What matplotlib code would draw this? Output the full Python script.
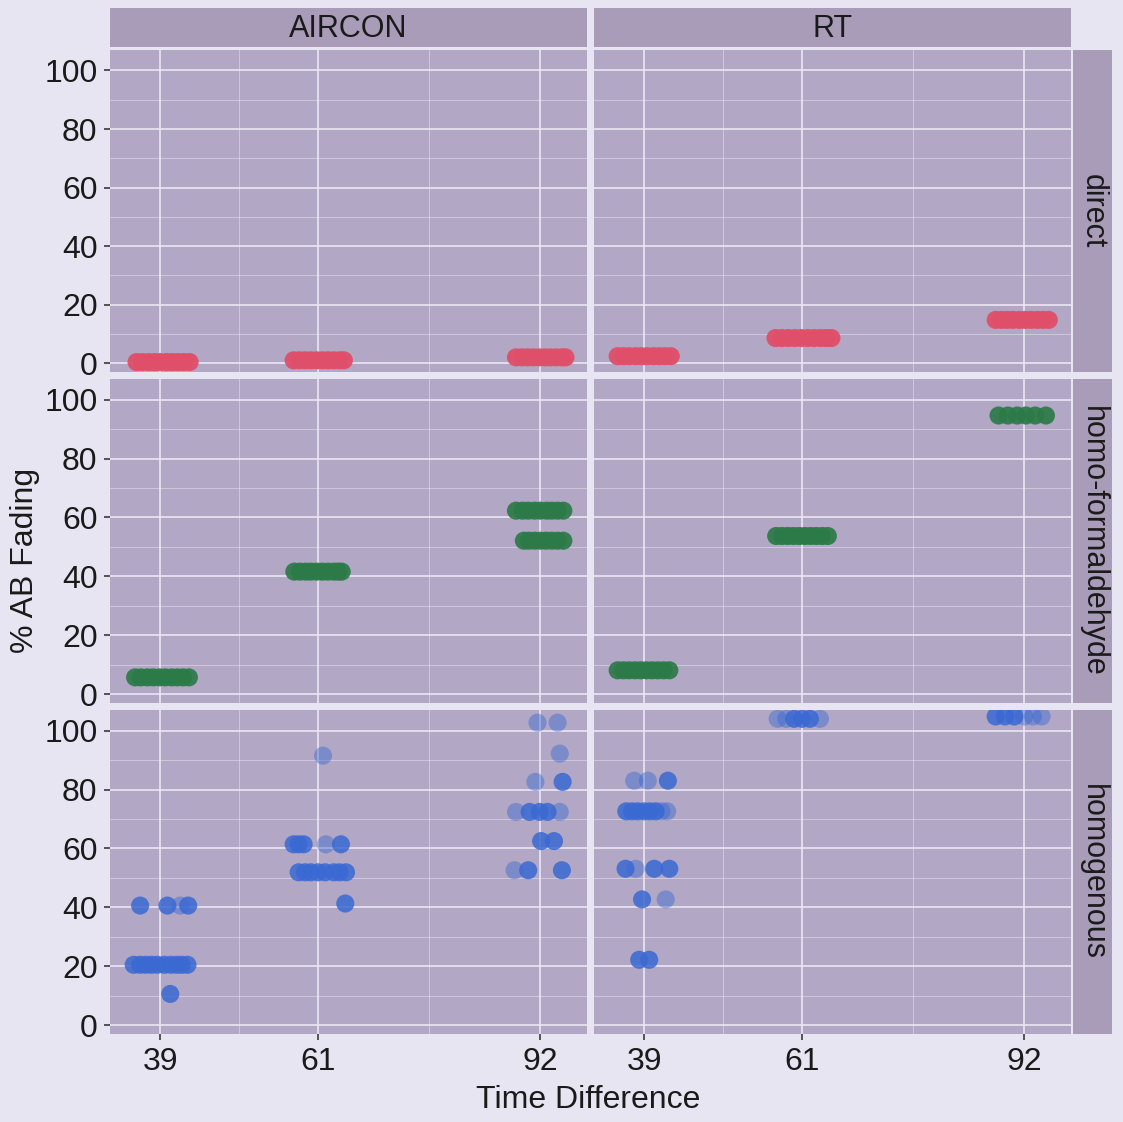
import numpy as np
import matplotlib.pyplot as plt

plt.rcParams['font.family'] = ['Liberation Sans', 'DejaVu Sans']

# facets
cols = ["AIRCON", "RT"]
rows = ["direct", "homo-formaldehyde", "homogenous"]
x_breaks = [39, 61, 92]
y_breaks = [0, 20, 40, 60, 80, 100]

# direct
direct_aircon_x = [35.7, 36.5, 37.4, 38.2, 39.0, 39.9, 40.7, 41.5, 42.3, 43.1,
                   57.6, 58.4, 59.2, 60.0, 60.8, 61.6, 62.4, 63.2, 64.0, 64.6,
                   88.6, 89.4, 90.2, 91.0, 91.8, 92.6, 93.4, 94.2, 95.0, 95.5]
direct_aircon_y = [0.4] * 10 + [1.0] * 10 + [2.0] * 10
direct_rt_x = [35.3, 36.1, 36.9, 37.8, 38.6, 39.4, 40.3, 41.1, 41.9, 42.7,
               57.3, 58.2, 59.1, 60.0, 60.9, 61.8, 62.7, 63.6, 64.4, 65.1,
               88.0, 88.8, 89.6, 90.4, 91.3, 92.1, 92.9, 93.8, 94.6, 95.4]
direct_rt_y = [2.4] * 10 + [8.6] * 10 + [14.8] * 10

# homo-formaldehyde
formal_aircon_x = [35.5, 36.3, 37.2, 38.0, 38.9, 39.7, 40.6, 41.4, 42.2, 43.0,
                   57.7, 58.5, 59.3, 60.0, 60.8, 61.6, 62.4, 63.2, 63.8, 64.3,
                   88.6, 89.5, 90.3, 91.2, 92.0, 92.9, 93.6, 94.4, 95.2,
                   89.7, 90.4, 91.2, 92.0, 92.8, 93.6, 94.4, 95.2]
formal_aircon_y = [5.7] * 10 + [41.6] * 10 + [62.3] * 9 + [52.1] * 8
formal_rt_x = [35.3, 36.1, 36.9, 37.7, 38.5, 39.3, 40.1, 40.9, 41.7, 42.5,
               57.4, 58.2, 59.0, 59.8, 60.6, 61.4, 62.2, 63.0, 63.8, 64.6,
               88.4, 89.7, 91.0, 92.2, 93.5, 95.0]
formal_rt_y = [8.1] * 10 + [53.7] * 10 + [94.6] * 6

# homogenous (solid and pale points)
homog_aircon_x = [36.2, 40.0, 42.9,
                  35.3, 36.2, 37.0, 37.8, 38.6, 39.6, 40.5, 41.3, 42.0, 42.8,
                  40.4,
                  57.6, 58.3, 59.0, 64.2,
                  58.3, 59.2, 60.0, 61.0, 62.0, 63.2, 64.0, 64.9,
                  64.8,
                  95.1, 90.5, 91.9, 93.0, 92.1, 93.9, 90.3, 95.0]
homog_aircon_y = [40.6, 40.6, 40.6,
                  20.5, 20.5, 20.5, 20.5, 20.5, 20.5, 20.5, 20.5, 20.5, 20.5,
                  10.6,
                  61.4, 61.4, 61.4, 61.4,
                  51.9, 51.9, 51.9, 51.9, 51.9, 51.9, 51.9, 51.9,
                  41.3,
                  82.6, 72.4, 72.4, 72.4, 62.5, 62.5, 52.6, 52.6]
homog_aircon_pale_x = [41.8, 62.1, 61.7, 91.6, 94.4, 94.7, 91.3, 88.6, 94.7, 88.4]
homog_aircon_pale_y = [40.6, 61.4, 91.5, 102.7, 102.7, 92.2, 82.6, 72.4, 72.4, 52.6]

homog_rt_x = [42.3,
              36.5, 37.3, 38.1, 39.0, 39.8, 40.6,
              36.4, 40.4, 42.5,
              38.7,
              38.3, 39.7,
              59.9, 61.0, 62.1,
              88.0, 89.3, 90.6]
homog_rt_y = [83.0,
              72.6, 72.6, 72.6, 72.6, 72.6, 72.6,
              53.1, 53.1, 53.1,
              42.7,
              22.2, 22.2,
              104.0, 104.0, 104.0,
              104.8, 104.8, 104.8]
homog_rt_pale_x = [37.6, 39.5, 41.4, 42.2, 37.8, 42.0,
                   57.6, 58.8, 63.5, 92.0, 93.2, 94.4]
homog_rt_pale_y = [83.0, 83.0, 72.6, 72.6, 53.1, 42.7,
                   104.0, 104.0, 104.0, 104.8, 104.8, 104.8]

colors_row = {"direct": "#e04f6a", "homo-formaldehyde": "#2c7a48",
              "homogenous": "#3a69d3"}
alpha_row = {"direct": 0.95, "homo-formaldehyde": 0.92, "homogenous": 0.85}

solid = {
    ("direct", "AIRCON"): (direct_aircon_x, direct_aircon_y),
    ("direct", "RT"): (direct_rt_x, direct_rt_y),
    ("homo-formaldehyde", "AIRCON"): (formal_aircon_x, formal_aircon_y),
    ("homo-formaldehyde", "RT"): (formal_rt_x, formal_rt_y),
    ("homogenous", "AIRCON"): (homog_aircon_x, homog_aircon_y),
    ("homogenous", "RT"): (homog_rt_x, homog_rt_y),
}
pale = {
    ("homogenous", "AIRCON"): (homog_aircon_pale_x, homog_aircon_pale_y),
    ("homogenous", "RT"): (homog_rt_pale_x, homog_rt_pale_y),
}

W, H = 1123, 1122
fig = plt.figure(figsize=(W / 100, H / 100), dpi=100)
fig.patch.set_facecolor("#e7e5f1")


def box(x0, y0, x1, y1):
    return [x0 / W, 1 - y1 / H, (x1 - x0) / W, (y1 - y0) / H]


col_px = [(110, 587), (594, 1071)]
row_px = [(50, 372), (379, 703), (710, 1034)]
panel_bg = "#b2a7c4"
strip_bg = "#a99cb9"
grid_c = "#ebe7f3"
txt_c = "#1a1a1a"

for i, r in enumerate(rows):
    for j, c in enumerate(cols):
        ax = fig.add_axes(box(col_px[j][0], row_px[i][0], col_px[j][1], row_px[i][1]))
        ax.set_facecolor(panel_bg)
        ax.set_xlim(32, 98.5)
        ax.set_ylim(-3, 107)
        ax.set_xticks(x_breaks)
        ax.set_xticks([50, 76.5], minor=True)
        ax.set_yticks(y_breaks)
        ax.set_yticks([10, 30, 50, 70, 90], minor=True)
        ax.grid(True, which="major", color=grid_c, lw=1.2, zorder=0)
        ax.grid(True, which="minor", color=grid_c, lw=0.6, alpha=0.6, zorder=0)
        ax.set_axisbelow(True)
        for s in ax.spines.values():
            s.set_visible(False)
        ax.tick_params(which="minor", length=0)
        ax.tick_params(which="major", length=4, width=1.2, color="#3a3a3a",
                       labelsize=23, labelcolor=txt_c, pad=5)
        if j != 0:
            ax.tick_params(axis="y", left=False, labelleft=False)
        if i != len(rows) - 1:
            ax.tick_params(axis="x", bottom=False, labelbottom=False)

        xs, ys = solid[(r, c)]
        ax.scatter(xs, ys, s=170, color=colors_row[r], alpha=alpha_row[r],
                   edgecolors="none", zorder=3)
        if (r, c) in pale:
            px, py = pale[(r, c)]
            ax.scatter(px, py, s=170, color=colors_row[r], alpha=0.45,
                       edgecolors="none", zorder=3)

# column strips
for j, c in enumerate(cols):
    sax = fig.add_axes(box(col_px[j][0], 8, col_px[j][1], 47))
    sax.set_facecolor(strip_bg)
    sax.set_xticks([])
    sax.set_yticks([])
    for s in sax.spines.values():
        s.set_visible(False)
    sax.text(0.5, 0.45, c, ha="center", va="center", fontsize=22, color=txt_c,
             transform=sax.transAxes)

# row strips
for i, r in enumerate(rows):
    sax = fig.add_axes(box(1073, row_px[i][0], 1112, row_px[i][1]))
    sax.set_facecolor(strip_bg)
    sax.set_xticks([])
    sax.set_yticks([])
    for s in sax.spines.values():
        s.set_visible(False)
    sax.text(0.5, 0.5, r, ha="center", va="center", rotation=-90, fontsize=22,
             color=txt_c, transform=sax.transAxes)

fig.text(25 / W, 1 - 560 / H, "% AB Fading", rotation=90, ha="center",
         va="center", fontsize=23, color=txt_c)
fig.text(588 / W, 1 - 1100 / H, "Time Difference", ha="center", va="center",
         fontsize=23, color=txt_c)

plt.savefig("out.png", dpi=100, facecolor=fig.get_facecolor())
